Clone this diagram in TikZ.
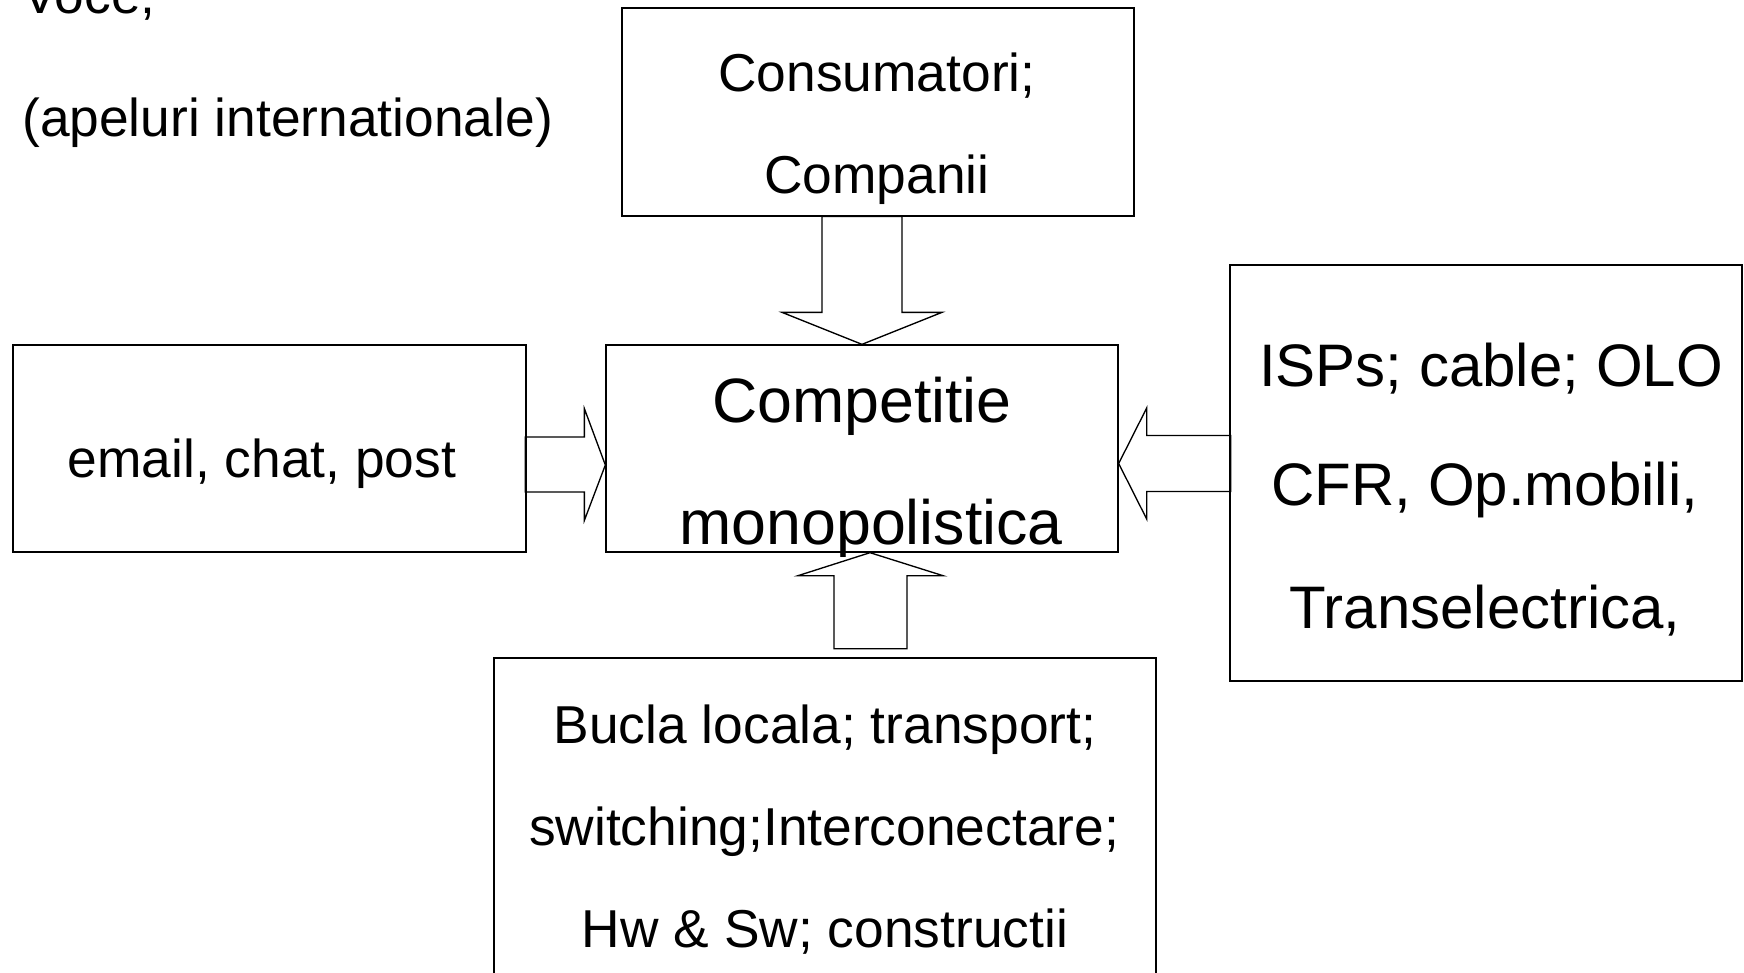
\documentclass[tikz,border=0pt]{standalone}
\usepackage{fontspec}
\setmainfont{Liberation Sans}
\usetikzlibrary{calc,fit}

\begin{document}
\begin{tikzpicture}[x=.75pt,y=-.75pt,
  box/.style={draw,line width=1pt,inner sep=0pt},
  barrow/.style={draw,line width=1pt},
  txt/.style={anchor=base,inner sep=0pt,font=\fontsize{40}{48}\selectfont},
  midtxt/.style={txt,font=\fontsize{45}{54}\selectfont},
  bigtxt/.style={txt,font=\fontsize{47}{56}\selectfont}]
  \useasboundingbox (0,0) rectangle (1744,972);
  \clip (0,0) rectangle (1744,972);
  % boxes
  \node[box,fit={(622,8) (1134,216)}] (cons) {};
  \node[box,fit={(606,345) (1118,552)}] (comp) {};
  \node[box,fit={(13,345) (526,552)}] (mail) {};
  \node[box,fit={(1230,265) (1742,681)}] (isp) {};
  \node[box,fit={(494,658) (1156,1020)}] (bucla) {};
  % block arrows into the middle box
  \draw[barrow] (comp.north) -- ++(-80,-32) -- ++(40,0) -- ++(0,-96)
    -- ++(80,0) -- ++(0,96) -- ++(40,0) -- cycle;
  \draw[barrow] ($(comp.west)+(0,16.5)$) -- ++(-21,-56.5) -- ++(0,28.5)
    -- ++(-59,0) -- ++(0,55) -- ++(59,0) -- ++(0,28.5) -- cycle;
  \draw[barrow] ($(comp.east)+(0,15)$) -- ++(28,-55.5) -- ++(0,27.5)
    -- ++(84,0) -- ++(0,56) -- ++(-84,0) -- ++(0,27.5) -- cycle;
  \draw[barrow] ($(comp.south)+(8,0)$) -- ++(-72,23) -- ++(36,0) -- ++(0,73)
    -- ++(73,0) -- ++(0,-73) -- ++(36,0) -- cycle;
  % texts
  \node[txt,anchor=base west] (voce) at (22,13) {Voce;};
  \node[txt,anchor=base west] (apel) at (22,136) {(apeluri internationale)};
  \node[txt] (cons1) at (877,91) {Consumatori;};
  \node[txt] (cons2) at (877,193) {Companii};
  \node[bigtxt] (comp1) at (862,422) {Competitie};
  \node[bigtxt] (comp2) at (871,544) {monopolistica};
  \node[txt] (mail1) at (262,477) {email, chat, post};
  \node[midtxt] (isp1) at (1491,386) {ISPs; cable; OLO};
  \node[midtxt] (isp2) at (1485,505) {CFR, Op.mobili,};
  \node[midtxt] (isp3) at (1485,628) {Transelectrica,};
  \node[txt] (bucla1) at (825,743) {Bucla locala; transport;};
  \node[txt] (bucla2) at (824,845) {switching;Interconectare;};
  \node[txt] (bucla3) at (825,947) {Hw \& Sw; constructii};
\end{tikzpicture}
\end{document}
